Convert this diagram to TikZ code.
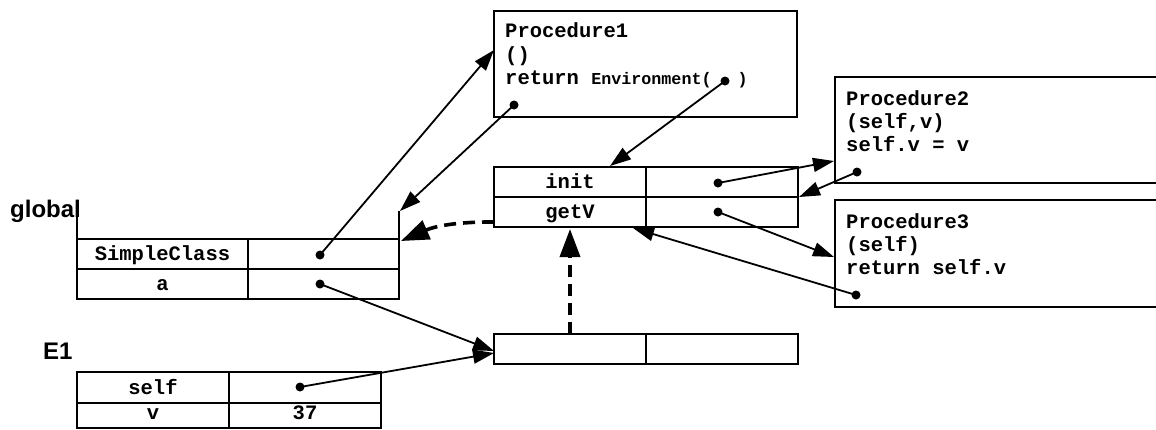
\documentclass[tikz,border=0pt]{standalone}
\usepackage{fontspec}
\setmainfont{Liberation Sans}
\setsansfont{Liberation Sans}
\setmonofont{Liberation Mono}
\usetikzlibrary{arrows.meta}
\newcommand\codefont{\fontsize{20.5}{24}\selectfont\ttfamily\bfseries}
\newcommand\envfont{\fontsize{16.7}{20}\selectfont\ttfamily\bfseries}
\newcommand\lblfont{\fontsize{24}{28}\selectfont\sffamily\bfseries}
\begin{document}
\begin{tikzpicture}[x=1pt,y=-1pt,
  cell/.style={draw, line width=2pt, inner sep=0pt, outer sep=0pt, anchor=north west, font=\codefont, text height=13pt, text depth=0pt},
  box/.style={draw, line width=2pt, inner sep=0pt, outer sep=0pt, anchor=north west},
  frameline/.style={line width=2pt},
  code/.style={anchor=base west, inner sep=0pt, font=\codefont},
  lbl/.style={anchor=base west, inner sep=0pt, font=\lblfont},
  dot/.style={circle, fill, inner sep=0pt, minimum size=9pt},
  arr/.style={line width=1.8pt, -{Triangle[length=21pt,width=14pt]}},
  darr/.style={line width=3.6pt, dash pattern=on 12pt off 7pt, -{Triangle[length=28pt,width=20pt]}},
]
\clip (0,0) rectangle (1156,429);
\fill[white] (0,0) rectangle (1156,429);

% labels
\node[lbl] (lglobal) at (10,217) {global};
\node[lbl] (lE1) at (43,359) {E1};

% global frame
\node[cell, minimum width=171pt, minimum height=30pt] (g11) at (77,239) {SimpleClass};
\node[cell, minimum width=151pt, minimum height=30pt] (g12) at (248,239) {};
\node[cell, minimum width=171pt, minimum height=30pt] (g21) at (77,269) {a};
\node[cell, minimum width=151pt, minimum height=30pt] (g22) at (248,269) {};
\draw[frameline] (g11.north west) -- ++(0,-27);
\draw[frameline] (g12.north east) -- ++(0,-28);

% E1 frame
\node[cell, minimum width=152pt, minimum height=31pt] (e11) at (77,372) {self};
\node[cell, minimum width=152pt, minimum height=31pt] (e12) at (229,372) {};
\node[cell, minimum width=152pt, minimum height=25pt, text depth=6pt] (e21) at (77,403) {v};
\node[cell, minimum width=152pt, minimum height=25pt, text depth=6pt] (e22) at (229,403) {37};

% class object
\node[cell, minimum width=152pt, minimum height=30pt] (c11) at (494,167) {init};
\node[cell, minimum width=152pt, minimum height=30pt] (c12) at (646,167) {};
\node[cell, minimum width=152pt, minimum height=30pt] (c21) at (494,197) {getV};
\node[cell, minimum width=152pt, minimum height=30pt] (c22) at (646,197) {};

% instance
\node[cell, minimum width=152pt, minimum height=30pt] (i1) at (494,334) {};
\node[cell, minimum width=152pt, minimum height=30pt] (i2) at (646,334) {};

% procedures
\node[box, minimum width=303pt, minimum height=106pt] (proc1) at (494,11) {};
\node[code] (p1a) at (505,37) {Procedure1};
\node[code] (p1b) at (505,61) {()};
\node[code] (p1c) at (505,84) {return {\envfont Environment(\hspace{26pt})}};

\node[box, minimum width=340pt, minimum height=106pt] (proc2) at (835,77) {};
\node[code] (p2a) at (846,105) {Procedure2};
\node[code] (p2b) at (846,128) {(self,v)};
\node[code] (p2c) at (846,151) {self.v = v};

\node[box, minimum width=340pt, minimum height=107pt] (proc3) at (835,200) {};
\node[code] (p3a) at (846,228) {Procedure3};
\node[code] (p3b) at (846,251) {(self)};
\node[code] (p3c) at (846,274) {return self.v};

% dots
\node[dot] (dsc) at (320,255) {};
\node[dot] (da) at (320,284) {};
\node[dot] (dself) at (300,387) {};
\node[dot] (dinit) at (718,183) {};
\node[dot] (dgetv) at (718,212) {};
\node[dot] (dp1) at (514,105) {};
\node[dot] (denv) at (725,81) {};
\node[dot] (dp2) at (857,172) {};
\node[dot] (dp3) at (856,295) {};

% arrow targets
\coordinate (t1) at (494,50);
\coordinate (t2) at (400,211);
\coordinate (t3) at (610,166);
\coordinate (t4) at (834,161);
\coordinate (t5) at (799,197);
\coordinate (t6) at (834,257);
\coordinate (t7) at (633,228);
\coordinate (t8s) at (494,222);
\coordinate (t8) at (401,241);
\coordinate (t9s) at (570,334);
\coordinate (t9) at (570,229);
\coordinate (t10) at (494,351);
\coordinate (t11) at (494,353);

% arrows
\draw[arr] (dsc.center) -- (t1);
\draw[arr] (dp1.center) -- (t2);
\draw[arr] (denv.center) -- (t3);
\draw[arr] (dinit.center) -- (t4);
\draw[arr] (dp2.center) -- (t5);
\draw[arr] (dgetv.center) -- (t6);
\draw[arr] (dp3.center) -- (t7);
\draw[arr] (da.center) -- (t10);
\draw[arr] (dself.center) -- (t11);
\draw[darr] (t8s) to[bend right=12] (t8);
\draw[darr] (t9s) -- (t9);
\end{tikzpicture}
\end{document}
